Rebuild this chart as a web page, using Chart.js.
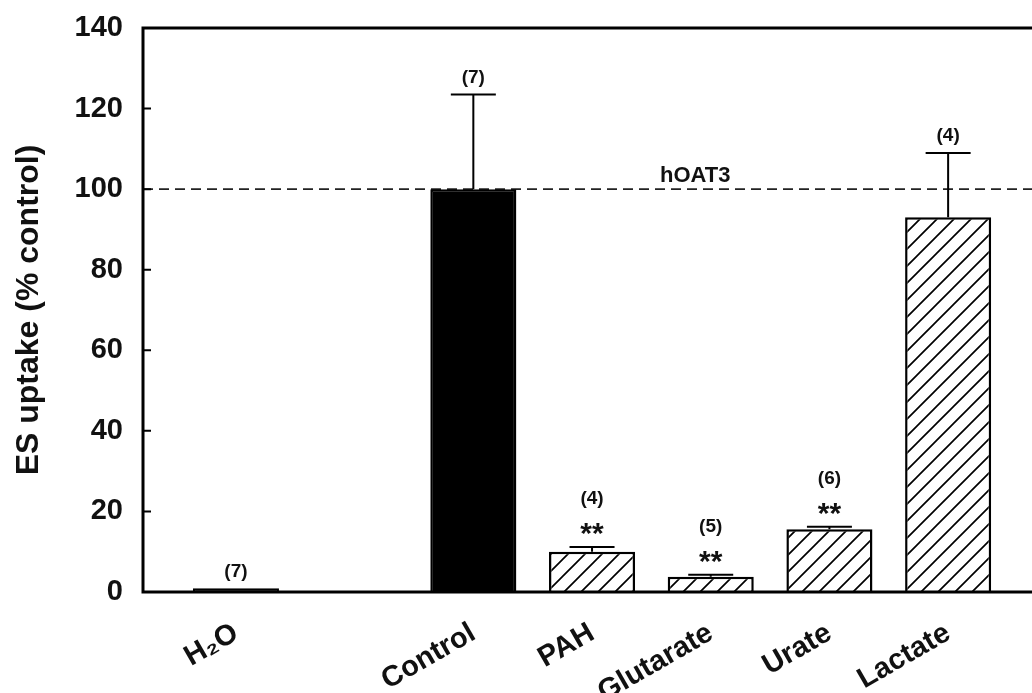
<!DOCTYPE html>
<html>
<head>
<meta charset="utf-8">
<script src="https://cdn.jsdelivr.net/npm/chart.js@4.4.1/dist/chart.umd.min.js"></script>
<style>
html,body{margin:0;padding:0;overflow:hidden;background:#fff;}
#wrap{width:1045px;height:693px;position:relative;}
</style>
</head>
<body>
<div id="wrap"><canvas id="c" width="1045" height="693"></canvas></div>
<script>
// ---- data ----
const categories = ['H\u2082O', 'Control', 'PAH', 'Glutarate', 'Urate', 'Lactate'];
const positions = [1, 3, 4, 5, 6, 7];
const values = [0.9, 100, 10, 3.8, 15.6, 93];
const errors = [0, 23.5, 1.2, 0.5, 0.6, 16];
const nLabels = ['(7)', '(7)', '(4)', '(5)', '(6)', '(4)'];
const significance = ['', '', '**', '**', '**', ''];
const fillKinds = ['solid', 'solid', 'hatch', 'hatch', 'hatch', 'hatch'];
const yTicks = [0, 20, 40, 60, 80, 100, 120, 140];
const refValue = 100;
const refLabel = 'hOAT3';
const yTitle = 'ES uptake (% control)';

const FONT = '"Liberation Sans", Arial, Helvetica, sans-serif';

function makeHatch() {
  const s = 17;
  const c = document.createElement('canvas');
  c.width = s; c.height = s;
  const g = c.getContext('2d');
  g.fillStyle = '#fff';
  g.fillRect(0, 0, s, s);
  g.strokeStyle = '#000';
  g.lineWidth = 1.7;
  g.beginPath();
  for (let k = -1; k <= 1; k++) {
    g.moveTo(k * s - 1, s + 1);
    g.lineTo(k * s + s + 1, -1);
  }
  g.stroke();
  return document.getElementById('c').getContext('2d').createPattern(c, 'repeat');
}
const hatch = makeHatch();
const bgColors = fillKinds.map(k => k === 'solid' ? '#000' : hatch);

const decor = {
  id: 'decor',
  beforeDatasetsDraw(chart) {
    const { ctx, chartArea: a, scales: { y } } = chart;
    const yy = y.getPixelForValue(refValue);
    ctx.save();
    ctx.strokeStyle = '#222';
    ctx.lineWidth = 1.6;
    ctx.setLineDash([10, 6]);
    ctx.beginPath();
    ctx.moveTo(a.left, yy);
    ctx.lineTo(a.right, yy);
    ctx.stroke();
    ctx.setLineDash([]);
    ctx.fillStyle = '#111';
    ctx.font = 'bold 22px ' + FONT;
    ctx.textAlign = 'left';
    ctx.textBaseline = 'alphabetic';
    ctx.fillText(refLabel, a.left + 517, yy - 7);
    ctx.restore();
  },
  afterDatasetsDraw(chart) {
    const { ctx, chartArea: a, scales: { x, y } } = chart;
    ctx.save();
    // error bars
    ctx.strokeStyle = '#000';
    ctx.lineWidth = 2;
    values.forEach((v, i) => {
      if (!errors[i]) return;
      const px = x.getPixelForValue(positions[i]);
      const yb = y.getPixelForValue(v);
      const yt = y.getPixelForValue(v + errors[i]);
      ctx.beginPath();
      ctx.moveTo(px, yb);
      ctx.lineTo(px, yt);
      ctx.moveTo(px - 22.5, yt);
      ctx.lineTo(px + 22.5, yt);
      ctx.stroke();
    });
    // labels
    ctx.fillStyle = '#111';
    ctx.textAlign = 'center';
    values.forEach((v, i) => {
      const px = x.getPixelForValue(positions[i]);
      const yt = y.getPixelForValue(v + errors[i]);
      let nY;
      if (significance[i]) {
        ctx.font = 'bold 30px ' + FONT;
        ctx.textBaseline = 'alphabetic';
        ctx.fillText(significance[i], px, yt - 21 + 17);
        nY = yt - 48;
      } else {
        nY = yt - 17;
      }
      ctx.font = 'bold 19px ' + FONT;
      ctx.textBaseline = 'middle';
      ctx.fillText(nLabels[i], px, nY);
    });
    // frame
    ctx.strokeStyle = '#000';
    ctx.lineWidth = 3;
    ctx.beginPath();
    ctx.moveTo(a.left, a.top);
    ctx.lineTo(a.right, a.top);
    ctx.lineTo(a.right, a.bottom);
    ctx.lineTo(a.left, a.bottom);
    ctx.closePath();
    ctx.stroke();
    ctx.lineWidth = 2;
    yTicks.forEach(t => {
      const py = y.getPixelForValue(t);
      ctx.beginPath();
      ctx.moveTo(a.left, py); ctx.lineTo(a.left + 8, py);
      ctx.moveTo(a.right, py); ctx.lineTo(a.right - 8, py);
      ctx.stroke();
    });
    ctx.restore();
  }
};

new Chart(document.getElementById('c'), {
  type: 'bar',
  data: {
    datasets: [{
      data: positions.map((p, i) => ({ x: p, y: values[i] })),
      backgroundColor: bgColors,
      borderColor: '#000',
      borderWidth: 2.5,
      categoryPercentage: 1,
      barPercentage: 0.725
    }]
  },
  options: {
    responsive: false,
    animation: false,
    devicePixelRatio: 1,
    layout: { padding: { top: 28, left: 0, right: 5, bottom: 0 } },
    plugins: { legend: { display: false }, tooltip: { enabled: false } },
    scales: {
      x: {
        type: 'linear',
        offset: false,
        min: 0.217,
        max: 7.774,
        grid: { display: false },
        border: { display: false },
        afterBuildTicks: s => { s.ticks = positions.map(v => ({ value: v })); },
        afterFit: s => { s.height = 101; s.paddingLeft = 0; s.paddingRight = 0; },
        ticks: {
          autoSkip: false,
          minRotation: 30,
          maxRotation: 30,
          padding: 16,
          color: '#111',
          font: { family: FONT, size: 29, weight: 'bold' },
          callback: (v, i) => categories[i]
        }
      },
      y: {
        min: 0,
        max: 140,
        grid: { display: false },
        border: { display: false },
        afterBuildTicks: s => { s.ticks = yTicks.map(v => ({ value: v })); },
        afterFit: s => { s.width = 143; s.paddingTop = 0; s.paddingBottom = 0; },
        ticks: {
          padding: 12,
          color: '#111',
          font: { family: FONT, size: 29, weight: 'bold' }
        },
        title: {
          display: true,
          text: yTitle,
          color: '#111',
          font: { family: FONT, size: 32, weight: 'bold' },
          padding: { top: 10, bottom: 0 }
        }
      }
    }
  },
  plugins: [decor]
});
</script>
</body>
</html>
